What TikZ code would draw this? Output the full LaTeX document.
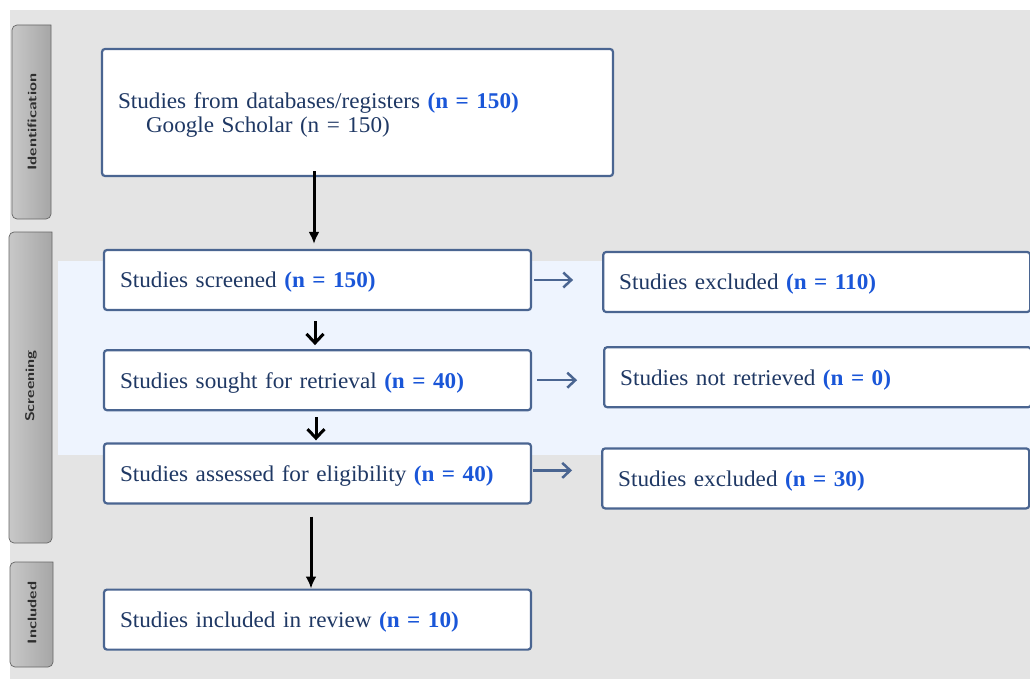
\documentclass[tikz,border=0pt]{standalone}
\usepackage{fontspec}
\setmainfont[FakeStretch=1.03]{Liberation Serif}
\usetikzlibrary{positioning,arrows.meta}

\definecolor{bggray}{HTML}{E4E4E4}
\definecolor{bandblue}{HTML}{EEF4FE}
\definecolor{boxline}{HTML}{4A6591}
\definecolor{textnavy}{HTML}{1F3864}
\definecolor{numblue}{HTML}{1A56D8}
\definecolor{tablight}{HTML}{C8C8C8}
\definecolor{tabdark}{HTML}{A6A6A6}

\newcommand{\nval}[1]{{\bfseries\color{numblue}(n = #1)}}
\newcommand{\tabtext}[1]{\scalebox{1.3}[1]{#1}}

\begin{document}
\begin{tikzpicture}[x=1pt, y=-1pt,
  stage/.style = {draw=boxline, line width=2.2pt, rounded corners=3pt, fill=white,
    minimum height=60pt, text width=395pt, inner xsep=16pt, align=left, text depth=0pt,
    text=textnavy, font=\fontsize{22.5}{24}\selectfont},
  tabshape/.style = {draw=gray!80!black, line width=0.7pt, left color=tablight, right color=tabdark},
  tablabel/.style = {rotate=90, text=black!82, font=\sffamily\bfseries\fontsize{12.5}{14}\selectfont},
  flow/.style = {-{Latex[length=12pt,width=11pt]}, line width=3pt, black},
  step down/.style = {-{Straight Barb[length=9pt,width=17pt]}, line width=3pt, black},
  side/.style = {-{Straight Barb[length=8pt,width=15pt]}, line width=2.5pt, boxline}]

\useasboundingbox (0,0) rectangle (1030,679);
% backdrop and screening band
\fill[bggray] (10,10) rectangle (1030,679);
\fill[bandblue] (58,261) rectangle (1030,455);

% phase tabs
\path[tabshape] (51,25) [rounded corners=5pt] -- (12,25) -- (12,219) -- (51,219) [sharp corners] -- cycle;
\path[tabshape] (52,232) [rounded corners=5pt] -- (9,232) -- (9,543) -- (52,543) [sharp corners] -- cycle;
\path[tabshape] (53,562) [rounded corners=5pt] -- (10,562) -- (10,667) -- (53,667) [sharp corners] -- cycle;
\node[tablabel] (identtab) at (32,122) {\tabtext{Identification}};
\node[tablabel] (screentab) at (31,386) {\tabtext{Screening}};
\node[tablabel] (incltab) at (32,613) {\tabtext{Included}};

% main column
\node[stage, minimum height=127pt, text width=479pt, text depth=23pt] (found) at (357.5,112.5)
  {Studies from databases/registers \nval{150}\\ \hspace*{28pt}Google Scholar (n = 150)};
\node[stage] (screened) at (317.5,280) {Studies screened \nval{150}};
\node[stage] (sought) [below=38pt of screened] {Studies sought for retrieval \nval{40}};
\node[stage] (assessed) [below=31pt of sought] {Studies assessed for eligibility \nval{40}};
\node[stage] (included) [below=84pt of assessed] {Studies included in review \nval{10}};

% side column
\node[stage] (excluded1) [right=70pt of screened, yshift=-2pt] {Studies excluded \nval{110}};
\node[stage] (notretr) [right=71pt of sought, yshift=3pt] {Studies not retrieved \nval{0}};
\node[stage] (excluded2) [right=69pt of assessed, yshift=-5pt] {Studies excluded \nval{30}};

% connectors
\draw[flow, shorten <=-6pt, shorten >=5pt] ([xshift=-3.5pt]screened.north |- found.south) -- ([xshift=-3.5pt]screened.north);
\draw[step down, shorten <=10pt, shorten >=4pt] ([xshift=-2.5pt]screened.south) -- ([xshift=-2.5pt]sought.north);
\draw[step down, shorten <=6pt, shorten >=2pt] ([xshift=-1.5pt]sought.south) -- ([xshift=-1.5pt]assessed.north);
\draw[flow, shorten <=12pt] ([xshift=-6.5pt]assessed.south) -- ([xshift=-6.5pt]included.north);

\draw[side, shorten <=2pt, shorten >=29pt] (screened.east) -- (screened.east -| excluded1.west);
\draw[side, shorten <=5pt, shorten >=26pt] (sought.east) -- (sought.east -| notretr.west);
\draw[side, shorten <=1pt, shorten >=29pt] ([yshift=3pt]assessed.east) -- ([yshift=3pt]assessed.east -| excluded2.west);
\end{tikzpicture}
\end{document}
